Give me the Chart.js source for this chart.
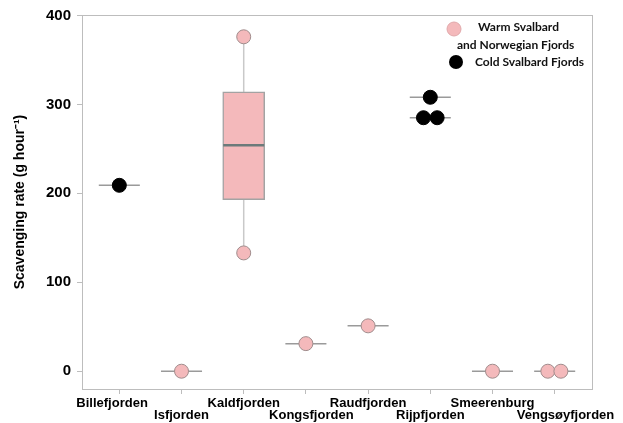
<!DOCTYPE html>
<html>
<head>
<meta charset="utf-8">
<script src="https://cdn.jsdelivr.net/npm/chart.js@4"></script>
<style>
  html, body { margin: 0; padding: 0; background: #fff; }
  #wrap { width: 623px; height: 423px; }
</style>
</head>
<body>
<div id="wrap"><canvas id="chart" width="623" height="423"></canvas></div>
<script>
// categories (x positions are 0..7)
const fjords = ['Billefjorden', 'Isfjorden', 'Kaldfjorden', 'Kongsfjorden',
                'Raudfjorden', 'Rijpfjorden', 'Smeerenburg', 'Vengsøyfjorden'];
const yTicks = [0, 100, 200, 300, 400];

// warm Svalbard and Norwegian fjords (pink points)
const warmX = [1, 2, 2, 3, 4, 6, 6.89, 7.1];
const warmY = [0, 376, 133, 31, 51, 0, 0, 0];

// cold Svalbard fjords (black points)
const coldX = [0, 5, 4.89, 5.11];
const coldY = [209, 308, 285, 285];

// median lines for single / few-point groups
const lineX = [0, 1, 3, 4, 5, 5, 6, 7];
const lineY = [209, 0, 31, 51, 308, 285, 0, 0];

// Kaldfjorden box
const boxX = 2;
const boxLow = 193, boxHigh = 314, boxMedian = 254;
const whiskerLow = 133, whiskerHigh = 376;

const halfW = 0.33;
const pink = '#f4b9bb';

// nudge a few labels like the original (spaces before / after)
function labelFor(i) {
  let t = fjords[i];
  if (i === 0) t = t + '    ';
  if (i === 3) t = '   ' + t;
  if (i === 7) t = '      ' + t;
  return i % 2 === 1 ? ['', t] : t;
}

const segDatasets = lineX.map((x, i) => ({
  type: 'line',
  data: [{ x: x - halfW, y: lineY[i] }, { x: x + halfW, y: lineY[i] }],
  borderColor: '#9a9a9a',
  borderWidth: 1.5,
  pointRadius: 0,
  order: 3
}));

const whiskers = [[whiskerLow, boxLow], [boxHigh, whiskerHigh]].map(p => ({
  type: 'line',
  data: [{ x: boxX, y: p[0] }, { x: boxX, y: p[1] }],
  borderColor: '#c9c9c9',
  borderWidth: 1.5,
  pointRadius: 0,
  order: 6
}));

const frame = {
  id: 'frame',
  beforeDatasetsDraw(chart) {
    const { ctx, chartArea: a } = chart;
    ctx.save();
    ctx.strokeStyle = '#bdbdbd';
    ctx.lineWidth = 1;
    ctx.strokeRect(a.left + 0.5, a.top + 0.5, a.right - a.left, a.bottom - a.top);
    ctx.restore();
  },
  afterDraw(chart) {
    const ctx = chart.ctx;
    ctx.save();
    // legend
    ctx.beginPath();
    ctx.arc(454, 29, 7, 0, Math.PI * 2);
    ctx.fillStyle = pink; ctx.fill();
    ctx.strokeStyle = '#e0a8aa'; ctx.lineWidth = 1; ctx.stroke();
    ctx.beginPath();
    ctx.arc(456, 62, 7, 0, Math.PI * 2);
    ctx.fillStyle = '#000'; ctx.fill();
    ctx.fillStyle = '#111';
    ctx.font = 'bold 12px Lato, "Open Sans", sans-serif';
    ctx.textBaseline = 'middle';
    ctx.textAlign = 'left';
    ctx.fillText('Warm Svalbard', 478, 27);
    ctx.fillText('and Norwegian Fjords', 457, 45);
    ctx.fillText('Cold Svalbard Fjords', 475, 62);
    ctx.restore();
  }
};

new Chart(document.getElementById('chart'), {
  data: {
    datasets: [
      {
        type: 'scatter',
        data: coldX.map((x, i) => ({ x, y: coldY[i] })),
        backgroundColor: '#000',
        borderColor: '#000',
        pointRadius: 7,
        order: 1
      },
      {
        type: 'scatter',
        data: warmX.map((x, i) => ({ x, y: warmY[i] })),
        backgroundColor: pink,
        borderColor: '#a08c8c',
        borderWidth: 1,
        pointRadius: 7,
        order: 1
      },
      ...segDatasets,
      {
        type: 'line',
        data: [{ x: boxX - halfW, y: boxMedian }, { x: boxX + halfW, y: boxMedian }],
        borderColor: '#6c7a7a',
        borderWidth: 2.5,
        pointRadius: 0,
        order: 2
      },
      {
        type: 'bar',
        data: [{ x: boxX, y: [boxLow, boxHigh] }],
        backgroundColor: pink,
        borderColor: '#a3a3a3',
        borderWidth: 1.5,
        borderSkipped: false,
        barThickness: 42,
        order: 5
      },
      ...whiskers
    ]
  },
  options: {
    responsive: false,
    animation: false,
    layout: { padding: { left: 0, right: 31, top: 15, bottom: 0 } },
    plugins: { legend: { display: false }, tooltip: { enabled: false } },
    scales: {
      x: {
        type: 'linear',
        offset: false,
        min: -0.6,
        max: 7.6,
        afterBuildTicks: s => { s.ticks = fjords.map((f, i) => ({ value: i })); },
        afterFit: s => { s.height = 34; },
        grid: { display: true, offset: false, drawOnChartArea: false, tickLength: 5, color: '#bdbdbd' },
        border: { display: true, color: '#bdbdbd' },
        ticks: {
          autoSkip: false,
          maxRotation: 0,
          padding: 4,
          color: '#000',
          font: { family: '"Liberation Sans", Arial, sans-serif', size: 13, weight: 'bold', lineHeight: 0.9 },
          callback: v => labelFor(v)
        }
      },
      y: {
        min: -20,
        max: 400.5,
        afterBuildTicks: s => { s.ticks = yTicks.map(v => ({ value: v })); },
        afterFit: s => { s.width = 82; },
        grid: { display: true, drawOnChartArea: false, tickLength: 5, color: '#bdbdbd' },
        border: { display: true, color: '#bdbdbd' },
        ticks: {
          padding: 6,
          color: '#000',
          font: { family: '"Liberation Sans", Arial, sans-serif', size: 15, weight: 'bold' }
        },
        title: {
          display: true,
          text: 'Scavenging rate (g hour⁻¹)',
          color: '#000',
          padding: { top: 12, bottom: 0 },
          font: { family: '"Liberation Sans", Arial, sans-serif', size: 14, weight: 'bold' }
        }
      }
    }
  },
  plugins: [frame]
});
</script>
</body>
</html>
